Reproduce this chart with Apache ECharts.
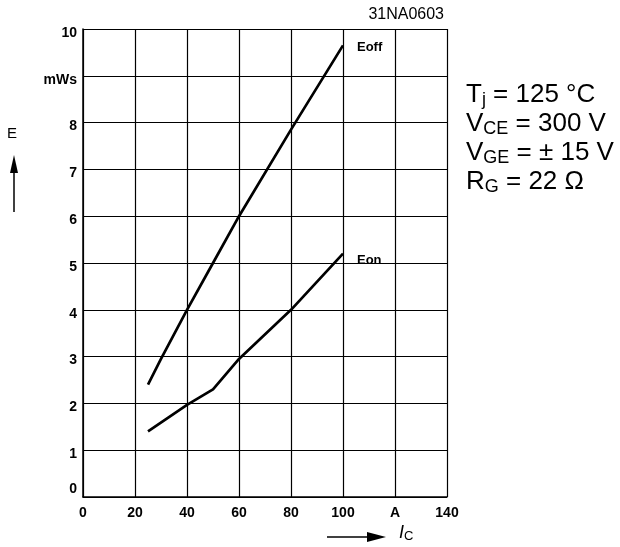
<!DOCTYPE html>
<html>
<head>
<meta charset="utf-8">
<script src="https://cdn.jsdelivr.net/npm/echarts@6/dist/echarts.min.js"></script>
<style>html,body{margin:0;padding:0;background:#fff;}#c{width:620px;height:547px;}</style>
</head>
<body>
<div id="c"></div>
<script>
const eoffX = [25, 30, 40, 50, 60, 80, 100];
const eoffY = [2.4, 2.95, 4.0, 5.0, 6.0, 7.85, 9.65];
const eonX = [25, 40, 50, 60, 80, 100];
const eonY = [1.4, 1.97, 2.3, 2.95, 4.0, 5.2];
const xTicks = {120: 'A'};
const yTicks = {9: 'mWs'};

const F = 'Liberation Sans, Arial, sans-serif';
const chart = echarts.init(document.getElementById('c'));
const pairs = (xs, ys) => xs.map((x, i) => [x, ys[i]]);

chart.setOption({
  animation: false,
  backgroundColor: '#fff',
  grid: {left: 83, right: 173, top: 29, bottom: 50},
  xAxis: {
    type: 'value', min: 0, max: 140, interval: 20,
    axisLine: {show: true, lineStyle: {color: '#000', width: 1.5}},
    axisTick: {show: false},
    splitLine: {show: true, lineStyle: {color: '#000', width: 1.2}},
    axisLabel: {color: '#000', fontFamily: F, fontSize: 14, fontWeight: 'bold', margin: 9,
      formatter: v => xTicks[v] !== undefined ? xTicks[v] : String(v)}
  },
  yAxis: {
    type: 'value', min: 0, max: 10, interval: 1,
    axisLine: {show: true, lineStyle: {color: '#000', width: 1.5}},
    axisTick: {show: false},
    splitLine: {show: true, lineStyle: {color: '#000', width: 1.2}},
    axisLabel: {color: '#000', fontFamily: F, fontSize: 14, fontWeight: 'bold', margin: 6,
      formatter: v => {
        const t = yTicks[v] !== undefined ? yTicks[v] : String(v);
        return v === 0 ? '{z|' + t + '}' : '{n|' + t + '}';
      },
      rich: {
        n: {color: '#000', fontFamily: F, fontSize: 14, fontWeight: 'bold', padding: [8, 0, 0, 0]},
        z: {color: '#000', fontFamily: F, fontSize: 14, fontWeight: 'bold', padding: [0, 0, 16, 0]}
      }}
  },
  series: [
    {type: 'line', name: 'Eoff', data: pairs(eoffX, eoffY), showSymbol: false, smooth: false,
      lineStyle: {color: '#000', width: 2.7}, itemStyle: {color: '#000'},
      endLabel: {show: true, formatter: 'Eoff', color: '#000', fontFamily: F, fontSize: 13, fontWeight: 'bold', offset: [6, 2]}},
    {type: 'line', name: 'Eon', data: pairs(eonX, eonY), showSymbol: false, smooth: false,
      lineStyle: {color: '#000', width: 2.7}, itemStyle: {color: '#000'},
      endLabel: {show: true, formatter: 'Eon', color: '#000', fontFamily: F, fontSize: 13, fontWeight: 'bold', offset: [6, 7]}}
  ],
  graphic: [
    {type: 'text', right: 176, top: 7, style: {text: '31NA0603', fill: '#000', font: '16px ' + F}},
    {type: 'text', left: 466, top: 82, style: {
      text: '{m|T}{s|j}{m| = 125 °C}\n{m|V}{s|CE}{m| = 300 V}\n{m|V}{s|GE}{m| = ± 15 V}\n{m|R}{s|G}{m| = 22 Ω}',
      rich: {
        m: {fontSize: 26, fontFamily: F, lineHeight: 29, fill: '#000'},
        s: {fontSize: 18, fontFamily: F, verticalAlign: 'bottom', fill: '#000'}
      }}},
    {type: 'text', left: 7, top: 126, style: {text: 'E', fill: '#000', font: '15px ' + F}},
    {type: 'line', shape: {x1: 14, y1: 212, x2: 14, y2: 170}, style: {stroke: '#000', lineWidth: 1.5}},
    {type: 'polygon', shape: {points: [[14, 155], [10, 173], [18, 173]]}, style: {fill: '#000'}},
    {type: 'line', shape: {x1: 327, y1: 537, x2: 370, y2: 537}, style: {stroke: '#000', lineWidth: 1.5}},
    {type: 'polygon', shape: {points: [[386, 537], [367, 532], [367, 542]]}, style: {fill: '#000'}},
    {type: 'text', left: 399, top: 524, style: {
      text: '{i|I}{c|C}',
      rich: {
        i: {fontSize: 18, fontFamily: F, fontStyle: 'italic', lineHeight: 20, fill: '#000'},
        c: {fontSize: 13, fontFamily: F, verticalAlign: 'bottom', fill: '#000'}
      }}}
  ]
});
</script>
</body>
</html>
